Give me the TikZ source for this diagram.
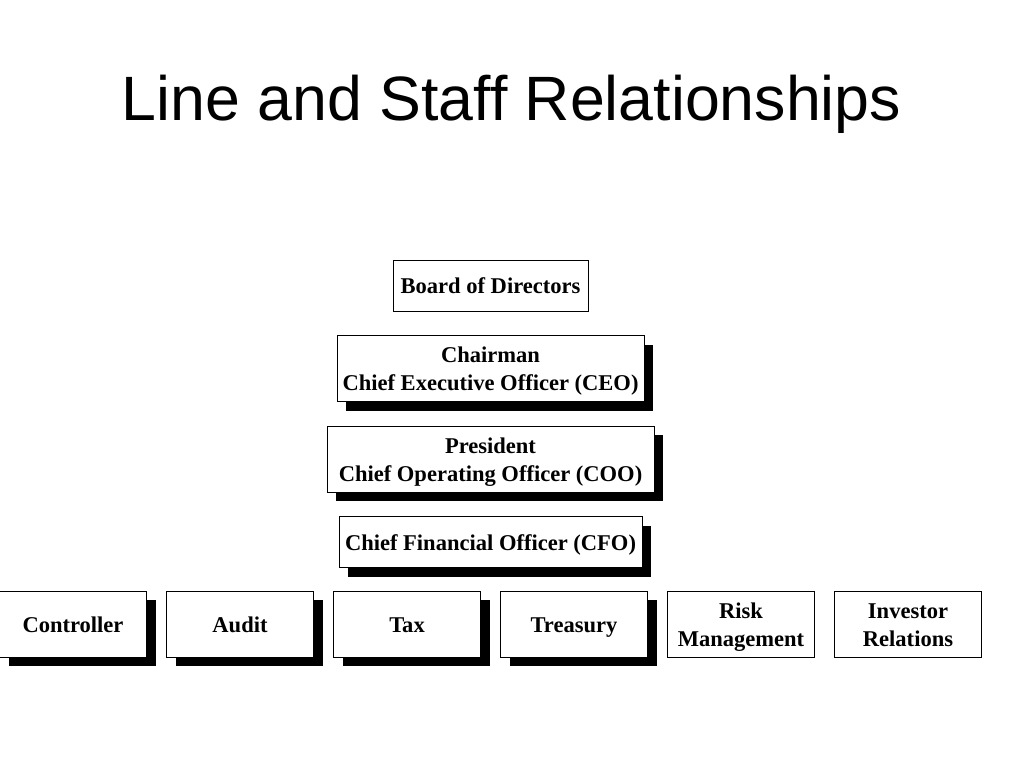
\documentclass[tikz,border=0pt]{standalone}
\usepackage{fontspec}
\setmainfont{Liberation Serif}
\newfontfamily\titlefont{Liberation Sans}
\usepackage{tikz}
\usetikzlibrary{shadows,positioning}

\begin{document}
\begin{tikzpicture}[
    x=0.75pt, y=-0.75pt,
    node distance=18.4pt and 15pt,
    every node/.style={font=\fontsize{16.9}{21}\selectfont\bfseries},
    post/.style={rectangle, draw=black, line width=0.7pt, fill=white, inner sep=0pt, outer sep=0pt, align=center, minimum height=49.5pt},
    linepost/.style={post, drop shadow={shadow xshift=7pt, shadow yshift=-7pt, fill=black, opacity=1}},
    oneline/.style={text height=16pt, text depth=3.6pt},
    twoline/.style={text height=37pt, text depth=3.6pt},
    staff/.style={minimum width=110.25pt}
]
    \useasboundingbox (0,0) rectangle (1024,768);

    % Title
    \node[anchor=base, font=\titlefont\fontsize{47}{47}\selectfont] (title) at (511.5,120) {Line and Staff Relationships};

    % Line of authority
    \node[post, oneline, minimum width=146.25pt, minimum height=38.25pt] (board) at (490.5,285.5) {Board of Directors};
    \node[linepost, twoline, below=of board, minimum width=230.25pt] (ceo) {Chairman\\Chief Executive Officer (CEO)};
    \node[linepost, twoline, below=of ceo, minimum width=245.25pt] (coo) {President\\Chief Operating Officer (COO)};
    \node[linepost, oneline, below=of coo, minimum width=227.25pt, minimum height=38.25pt] (cfo) {Chief Financial Officer (CFO)};

    % Finance row
    \node[linepost, staff, oneline] (ctrl) at (73,624) {Controller};
    \node[linepost, staff, oneline, right=of ctrl] (audit) {Audit};
    \node[linepost, staff, oneline, right=of audit] (tax) {Tax};
    \node[linepost, staff, oneline, right=of tax] (treas) {Treasury};
    \node[post, staff, twoline, right=of treas] (risk) {Risk\\Management};
    \node[post, staff, twoline, right=of risk] (invrel) {Investor\\Relations};
\end{tikzpicture}
\end{document}
